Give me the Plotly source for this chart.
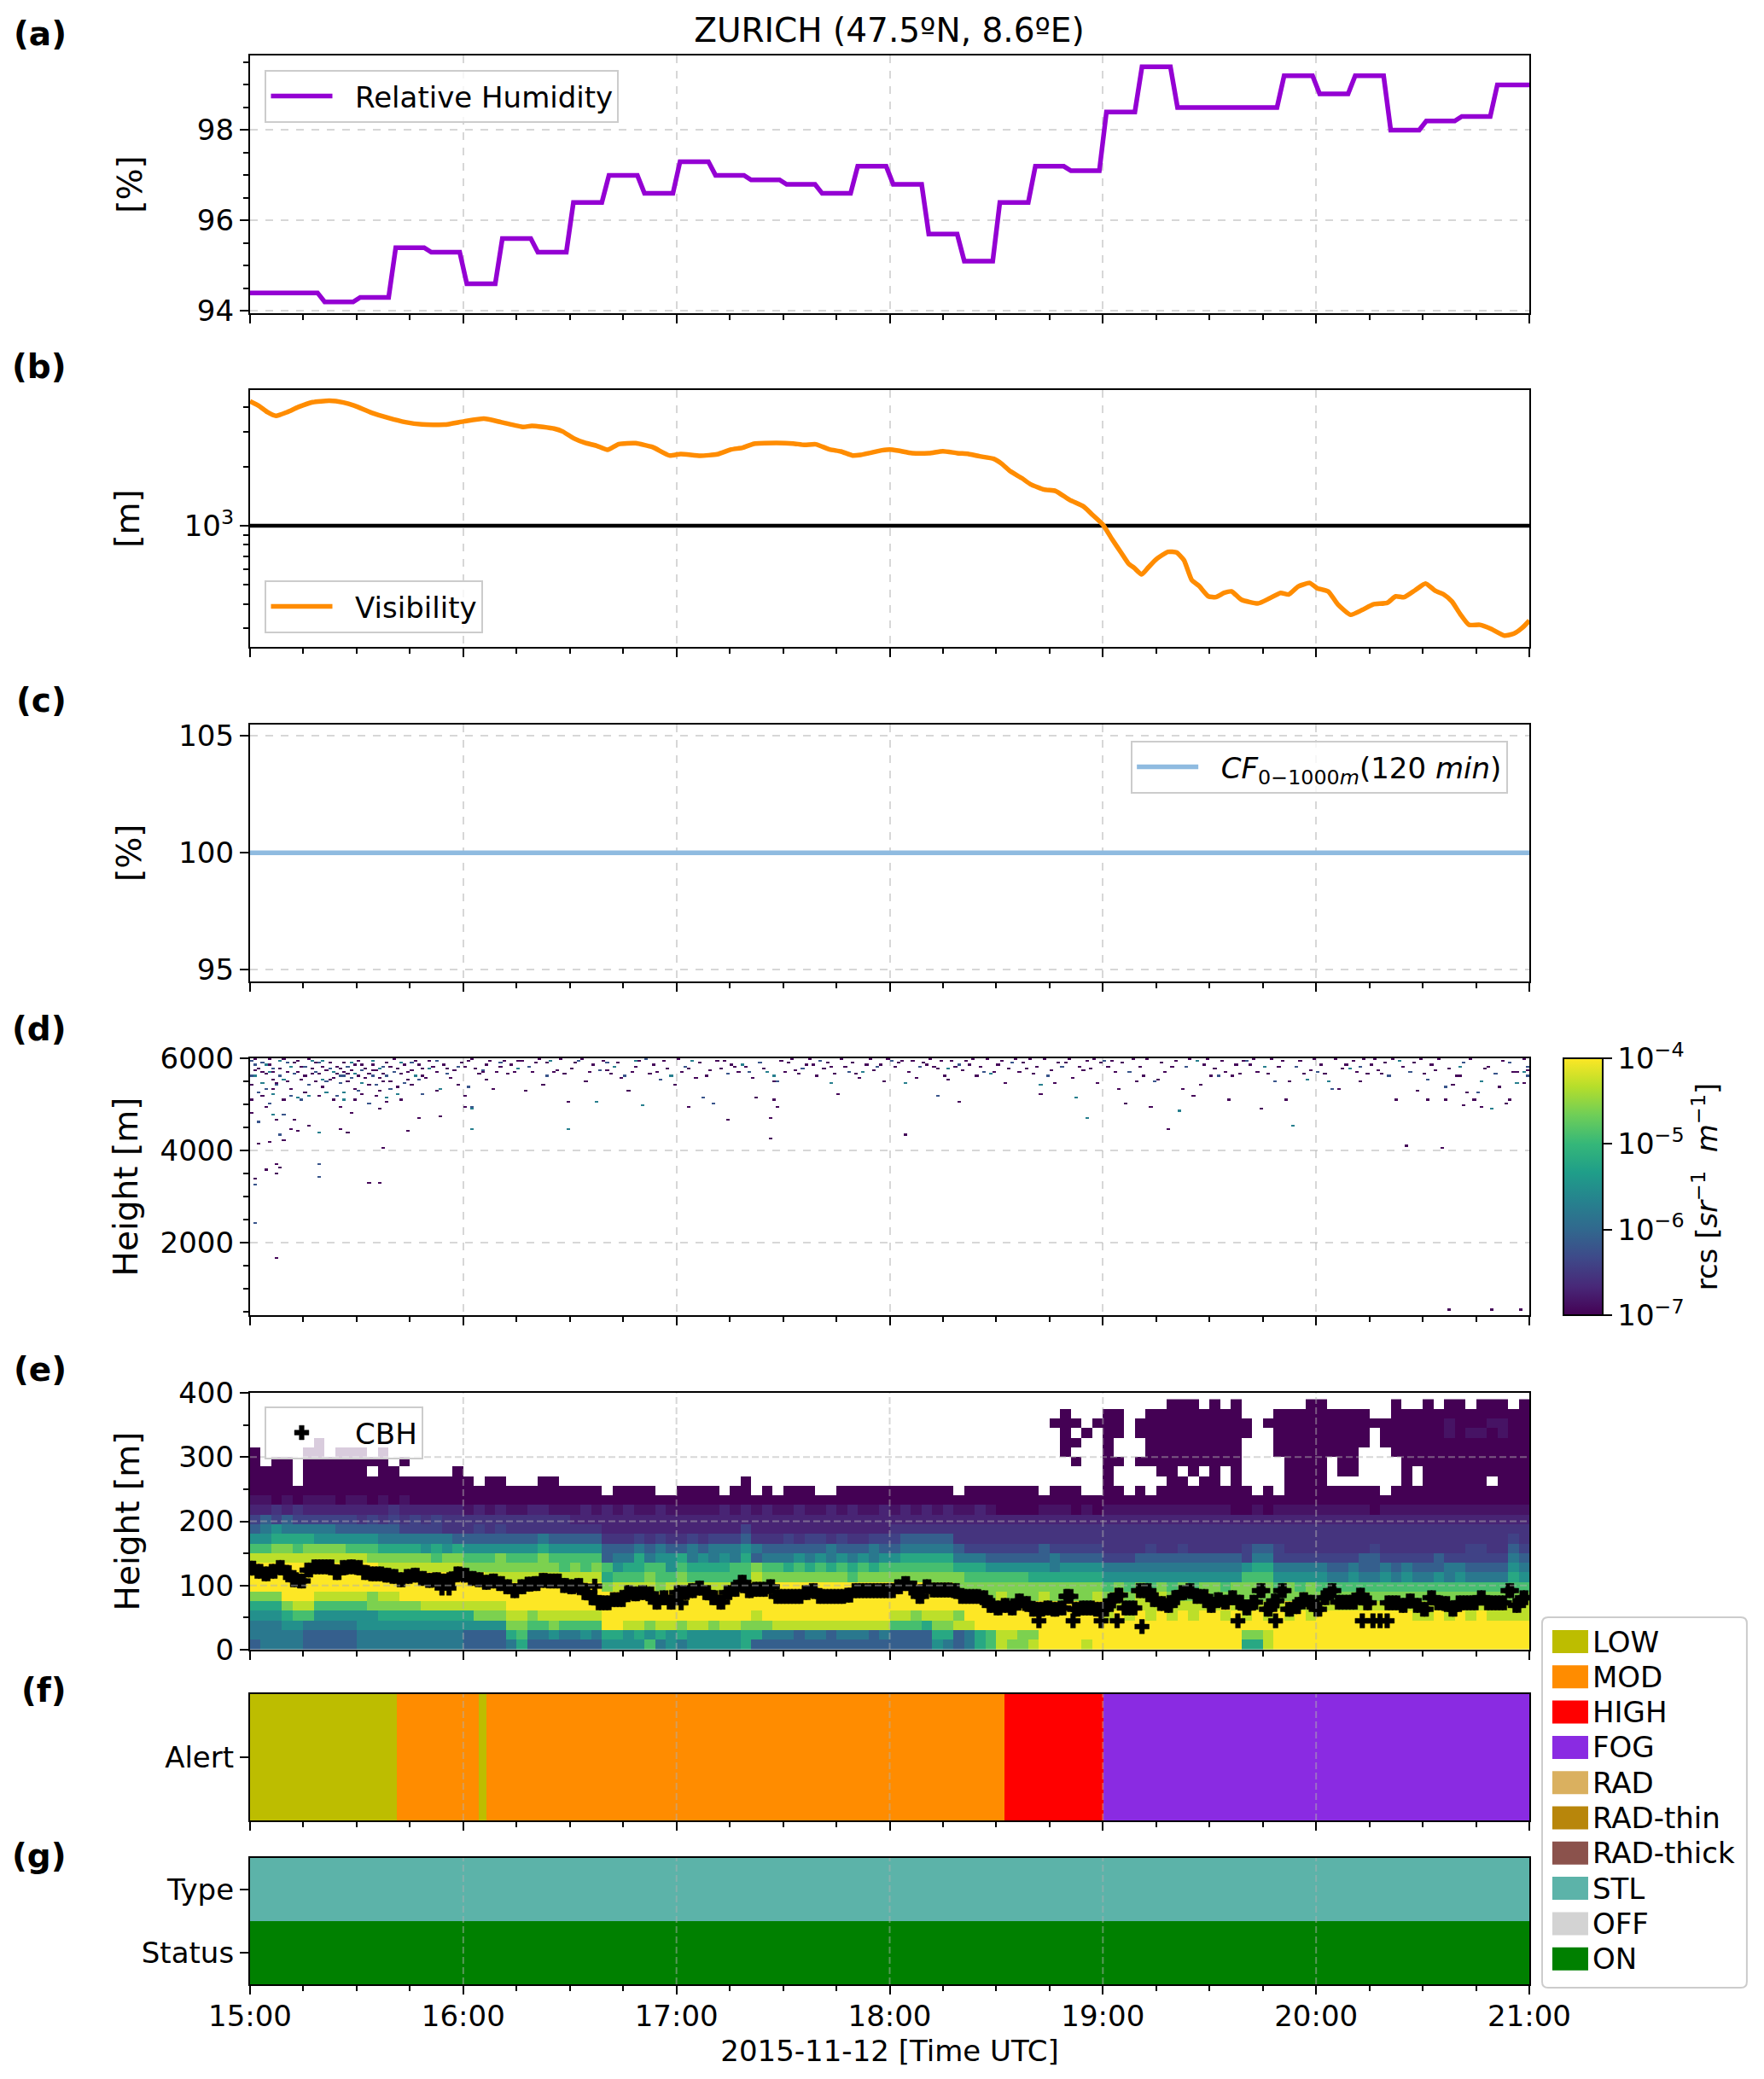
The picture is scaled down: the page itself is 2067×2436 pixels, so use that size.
import pandas as pd
import plotly.graph_objects as go

BASE = pd.Timestamp("2015-11-12 15:00")
def T(m):
    return (BASE + pd.Timedelta(minutes=float(m))).strftime("%Y-%m-%d %H:%M:%S")

TITLE = "ZURICH (47.5ºN, 8.6ºE)"
XLABEL = "2015-11-12 [Time UTC]"
panel_labels = ["(a)", "(b)", "(c)", "(d)", "(e)", "(f)", "(g)"]
hour_ticks = [0, 60, 120, 180, 240, 300, 360]

# (a) relative humidity, one value per 10 minute block
rh_blocks = [94.4, 94.4, 94.2, 94.3, 95.4, 95.3, 94.6, 95.6, 95.3, 96.4, 97.0, 96.6,
             97.3, 97.0, 96.9, 96.8, 96.6, 97.2, 96.8, 95.7, 95.1, 96.4, 97.2, 97.1,
             98.4, 99.4, 98.5, 98.5, 98.5, 99.2, 98.8, 99.2, 98.0, 98.2, 98.3, 99.0]

# (b) visibility
vis_minutes = [0, 2.5, 4.9, 7.3, 10.4, 13.6, 17.6, 22.3, 26.3, 29.4, 34.2, 38.9, 43.7, 48.4, 54.7, 60.3,
               65.8, 70.6, 76.9, 79.3, 85.6, 88, 91.1, 94.3, 97.5, 100.6, 103.8, 108.5, 113.3, 118, 121.2,
               126.7, 131.5, 135.4, 138.6, 141.8, 148.1, 152.8, 156, 159.2, 163.1, 166.3, 169.5, 171.8, 177.8,
               180, 182.4, 186.3, 191.1, 195, 199, 202.2, 205.3, 209.3, 211.6, 214, 217.2, 219.6, 223.5, 226.7,
               230.6, 234.6, 237, 240, 242.5, 245.2, 247.2, 248.8, 250.9, 252.8, 255.2, 258.3, 260.7, 262.8,
               265, 267, 269.7, 271.8, 274.1, 276.2, 278.9, 283.6, 286.8, 290, 292.3, 295, 298.2, 300.3, 303.4,
               306.1, 309.7, 312.9, 316.1, 320, 322.4, 324.8, 327.9, 330.8, 333.5, 335.9, 338.2, 340.6, 343,
               346.1, 349.3, 353, 355.6, 358, 360]
vis_m = [4298, 4075, 3786, 3626, 3786, 4022, 4256, 4328, 4242, 4088, 3762, 3542, 3370, 3280, 3270, 3403,
         3507, 3370, 3183, 3226, 3120, 3018, 2785, 2641, 2554, 2437, 2606, 2632, 2512, 2280, 2319,
         2273, 2311, 2445, 2495, 2615, 2641, 2623, 2580, 2597, 2445, 2389, 2280, 2296, 2421,
         2445, 2413, 2342, 2342, 2397, 2342, 2319, 2257, 2190, 2063, 1891, 1746, 1628, 1528, 1503,
         1355, 1251, 1139, 1013, 858, 726, 642, 610, 565, 614, 679, 736, 731, 668,
         529, 495, 437, 433, 455, 463, 421, 402, 426, 455, 447, 491, 511, 481, 463,
         398, 352, 372, 398, 405, 437, 433, 470, 508, 467, 447, 412, 354, 313,
         313, 298, 276, 282, 302, 329]
fog_limit_minutes = [0, 360]
fog_limit_m = [1000, 1000]

# (c) cloud fraction
cf_minutes = [0, 360]
cf_values = [100, 100]

# (d) sparse backscatter returns above the noise mask: (minute, height m)
d_dark_log = -6.95
d_dark = [(0,5410),(0,5090),(0,4800),(1,3370),(1,5720),(2,4140),(2,5780),(3,5170),(4,3570),(4,5640),(4,4950),(5,4190),
 (5,5960),(6,5330),(6,5550),(7,1655),(7,3500),(7,3700),(7,4650),(7,5460),(8,3600),(8,5940),(9,4230),(9,5080),(10,5680),
 (11,4470),(11,5340),(12,4650),(13,4400),(13,5930),(14,5530),(15,5260),(16,4530),(17,5640),(18,5900),(19,5190),(20,5360),
 (21,5750),(22,5540),(23,5100),(24,5830),(25,4450),(25,4950),(26,5700),(27,4385),(27,5480),(28,4830),(29,5080),(29,5340),
 (30,5920),(31,5230),(32,5560),(33,3280),(33,5400),(34,5740),(35,5180),(36,3300),(36,5300),(36,4900),(37,4070),(37,5510),
 (38,5050),(39,5830),(40,5960),(41,5370),(42,5080),(44,4415),(44,5700),(45,5430),(47,4700),(48,5620),(50,5940),(52,5280),
 (53,4720),(55,5790),(58,5430),(60,5170),(60,4950),(61,5950),(65,5700),(66,5540),(68,5320),(70,5820),(72,5650),(75,5950),
 (77,5300),(80,5880),(82,5420),(86,5740),(88,5640),(89,5040),(91,5880),(94,5480),(100,5720),(104,5560),(106,5280),(108,5800),
 (112,5640),(117,5780),(119,5400),(123,4920),(123,5790),(125,5570),(129,5720),(133,5940),(134,4660),(136,5800),(141,5560),
 (142,5120),(146,4260),(146,4695),(147,5090),(148,4935),(147,5480),(151,5900),(153,5750),(158,5860),(163,5830),(165,5200),
 (170,5650),(175,5740),(178,5500),(184,4350),(182,5880),(185,5700),(187,5580),(190,5840),(193,5760),(196,5520),(199,5065),
 (201,5920),(204,5620),(209,5680),(212,5460),(218,5780),(222,5230),(226,5470),(229,5900),(231,5580),(234,5720),(235,5920),
 (238,5470),(241,5800),(244,5350),(246,5010),(249,5500),(251,5620),(253,4925),(255,5540),(258,4470),(259,5800),(262,5340),
 (265,5170),(267,5400),(270,5630),(275,5100),(276,5600),(279,5940),(284,4910),(286,5650),(291,5095),(292,5480),(295,5920),
 (298,5720),(302,5650),(306,5340),(308,5860),(312,5500),(318,5650),(322,5095),(325,4090),(328,5280),(331,5080),(333,5750),
 (335,4040),(336,5110),(337,550),(338,5420),(339,5600),(341,4965),(342,5260),(344,5080),(346,4930),(348,5820),(349,550),
 (351,5380),(353,5030),(354,5110),(356,5700),(357,550),(358,5470),
 (1,5980),(3,5700),(5,5840),(6,5680),(8,5760),(9,5960),(10,5480),(12,5880),(13,5700),(14,5800),(15,5620),(16,5960),(17,5760),
 (18,5500),(19,5640),(20,5800),(22,5900),(23,5580),(24,5650),(25,5780),(26,5900),(27,5640),(28,5720),(29,5860),(30,5600),(31,5870),
 (32,5760),(33,5650),(34,5860),(35,5720),(36,5560),(37,5640),(38,5900),(39,5500),(41,5780),(42,5650),(43,5850),(44,5530),(45,5740),
 (46,5950),(47,5860),(48,5770),(49,5560),(51,5820),(52,5700),(54,5850),(56,5560),(57,5740),(59,5900),(60,5820),(62,5970),(63,5780),
 (64,5650),(66,5860),(67,5950),(69,5700),(71,5930),(73,5850),(74,5700),(76,5950),(79,5680),(81,5960),(83,5880),(85,5700),(87,5980),
 (90,5760),(93,5960),(95,5700),(96,5860),(99,5940),(101,5660),(103,5880),(107,5700),(109,5920),(113,5850),(114,5700),(116,5940),
 (120,5970),(121,5680),(126,5900),(128,5630),(131,5950),(132,5780),(135,5870),(137,5680),(139,5830),(144,5760),(149,5920),(150,5690),
 (152,5980),(154,5640),(156,5840),(157,5970),(159,5600),(161,5760),(162,5900),(164,5650),(166,5970),(167,5800),(169,5900),(171,5560),
 (173,5860),(174,5970),(177,5850),(179,5960),(181,5800),(183,5950),(186,5940),(189,5900),(191,5970),(192,5830),(194,5950),(195,5620),
 (197,5950),(198,5800),(200,5740),(202,5850),(203,5960),(205,5800),(207,5960),(210,5840),(211,5950),(213,5760),(215,5960),(216,5680),
 (217,5880),(219,5970),(220,5650),(221,5800),(223,5960),(225,5750),(227,5880),(230,5960),(233,5830),(236,5780),(237,5970),(239,5880),
 (242,5950),(243,5700),(245,5900),(248,5970),(250,5800),(252,5960),(256,5880),(257,5700),(260,5950),(264,5960),(268,5840),(269,5960),
 (271,5780),(273,5950),(274,5700),(277,5870),(278,5640),(281,5860),(282,5960),(283,5700),(287,5960),(289,5820),(290,5950),(296,5640),
 (299,5960),(301,5860),(305,5960),(307,5780),(310,5950),(311,5700),(313,5960),(314,5640),(315,5860),(316,5960),(317,5740),(319,5900),
 (321,5960),(324,5800),(327,5880),(329,5960),(330,5650),(332,5840),(334,5960),(337,5770),(340,5630),(343,5960),(347,5760),(352,5950),
 (355,5700),(358,5960),(359,5750)]
d_blue_log = -6.2
d_blue = [(0,5920),(0,5620),(1,2400),(1,3240),(1,5860),(2,5250),(2,4620),(3,5900),(4,5330),(5,5000),(6,5780),(7,5400),(8,4330),
 (8,5620),(9,4770),(10,5900),(11,5180),(12,5650),(14,5080),(15,5830),(16,5420),(18,5700),(19,3700),(19,3430),(19,5900),(21,5480),
 (22,5760),(24,5160),(25,5620),(25,5450),(26,5600),(27,5830),(28,5560),(30,5300),(31,5730),(33,5030),(34,5600),(35,5420),(37,5830),
 (38,5620),(39,5350),(40,5700),(43,5460),(45,5890),(47,5530),(48,5230),(52,5920),(55,5650),(58,5820),(61,5380),(62,4930),(65,5720),
 (70,5890),(78,5800),(83,5620),(92,5930),(98,5750),(100,5880),(105,5600),(111,5960),(115,5550),(122,5800),(127,5150),(130,5010),
 (134,5650),(140,5700),(143,5880),(148,5500),(155,5780),(160,5950),(168,5700),(176,5810),(180,5920),(188,5800),(193,5190),(199,5850),
 (206,5680),(214,5900),(224,5600),(228,5800),(240,5930),(247,5700),(254,5500),(263,5820),(272,5620),(280,5950),(288,5500),(294,5820),
 (300,5700),(304,5340),(312,5800),(320,5600),(326,5700),(331,5550),(336,5380),(341,5900),(345,5260),(350,5650),(354,5900),(359,5620),(359,5820)]
d_teal_log = -5.7
d_teal = [(1,5600),(3,5450),(4,5860),(5,5700),(6,4770),(6,5200),(8,5930),(9,5520),(11,5820),(13,5150),(16,5190),(17,5950),(19,4385),
 (20,5920),(20,5530),(21,5250),(23,5700),(26,5100),(26,5260),(28,5900),(29,5650),(31,5450),(34,5940),(36,5780),(38,5120),(41,5220),
 (42,5890),(46,5600),(50,5780),(53,5350),(62,4450),(62,4900),(75,5780),(84,5930),(89,4450),(97,5040),(102,5800),(108,5950),(110,4985),
 (118,5630),(124,5950),(138,5850),(145,5700),(147,5620),(163,5470),(172,5700),(184,5450),(196,5770),(208,5640),(222,5420),(232,5150),
 (235,4710),(261,4855),(266,5920),(285,5820),(293,4530),(297,5550),(303,5500),(309,5760),(323,5920),(340,5800),(346,5500),(349,4890),
 (356,5450),(358,5700)]

# (e) low-level backscatter; one character per 3 minute column, rows from 0-15 m up to 375-390 m
e_levels = {"0": -7.0, "1": -6.85, "2": -6.7, "3": -6.55, "4": -6.4, "5": -6.1, "6": -5.8,
            "7": -5.5, "8": -5.2, "9": -4.9, "a": -4.6, "b": -4.3, "c": -4.0, ".": None}
e_rows = [
 "5666655555 6666666666 5555685555 5557777967 6777778555 5555555555 5555765689 baabccccbc cccccccccc ccc88bcccc cccccccccc cccccccccc",
 "6666655555 6666666666 5555896676 6768878787 8777778866 6566566656 5555885689 bbaacccccc cccccccccc cccaabcccc cccccccccc cccccccccc",
 "6667766666 7777777777 7777aa99a9 999ccbbabb abbabbaaab bbbbbbbbbb 9998aabbcc cccccccccc cccccccccc cccccccccc cccccccccc cccccccccc",
 "7778997777 7788888888 8aaabbabbb bbbccccccc cccccccbcc cccccccccc bbabbbaccc cccccccccc bcbcbcbcbc cbcbcbcbcb cccccccccb bcbcbcbbbb",
 "888abb9999 9aaaaabbbb bbbbcccccc cccccccccc cccccccccc cccccccccc cccccccccc cccccccccc bbbbbbbbbb bcbbbbbcbb bbbbbbbbbb bbbbbbbbbb",
 "aaacccbbbb babbcccccc cccccccccc cccccccccc cccccccccc cccccccccc ccccccccca baaabaaaab abababaaab aaaaaaaaaa aaaaaaaaaa aaaaaaaaaa",
 "cccccccccc cccccccccc cccccccccc cccabbbbab bbbbbbcccc cccccccccc ccccccaaaa aaaaaaaaaa 9a9a9a9a9a a9aaaa9a9a 9999999999 9999999999",
 "cccccccccc cccccccccc ccbbbbbbbb bbb8999a99 a999999baa aaaaaa9aaa aaaaaaa999 9998888888 7777777777 7779997777 7667667676 6767666687",
 "cccccccccc ccbbbbbbbb aaaaaaaaa9 a9a9788997 9888899a99 8989898989 9999998887 7777767777 6666666666 6667886666 6556556565 5566555576",
 "bbbbbbbbbb baaaaaa9aa 999a999a99 9995668677 8676768566 6767676767 7888886665 5555565555 4445555555 5554664444 4444554444 4544444465",
 "99aa9aaaa9 9988887878 7777777877 7775556565 5656667655 5555655565 5666665444 4444544444 3333433433 3334554333 3333343333 3333443354",
 "7788887777 7766666665 5555555655 5553334343 3434445333 4344343344 4555553333 3333333333 3333333333 3333333333 3333333333 3333333343",
 "5676666655 5555444433 3434333333 3332222222 2222224222 2222222222 3333333333 3333333333 3333333333 3333333333 3333333333 3333333333",
 "4545444444 3434343433 3333333333 2222222222 2222222222 2222222222 2222222222 2222222222 2222222222 2222222222 2222222222 2222222222",
 "2232322222 2223222222 1212112211 1212121121 1111212121 1211212112 1212121121 0000111010 1111111111 1100101111 1111101111 1111111111",
 "1101011101 1010100000 0000000000 0000000000 0000000000 0000000000 0000000000 0000000000 0000000000 0000000000 0000000000 0000000000",
 "0000000000 0000000000 0000000000 000.0000.. 0000.00.0. 000..00000 000000.000 0000.000.. 00.0.00000 0000.0.000 000000.000 0000000000",
 "0000.00000 0000000000 0.00...00. .......... ......0... .......... .......... .......... 0.....00.0 0.0....000 0.......0. 000000.000",
 "0000.00000 0.00.....0 .......... .......... .......... .......... .......... .......... 0....00.0. 0.0....000 0.00....0. 0000000000",
 "0.00.00000 000.0..... .......... .......... .......... .......... .......... .......0.. 00.0000000 000....000 0.00....00 0000000000",
 "0....00.00 0.0....... .......... .......... .......... .......... .......... ......0... 0...000000 000...0000 0000...000 0000000000",
 "......0... .......... .......... .......... .......... .......... .......... ......00.. 0...000000 000...0000 00000.0000 0000000000",
 ".......... .......... .......... .......... .......... .......... .......... ......0.0. 00.0000000 0000..0000 00000.0000 0010110100",
 ".......... .......... .......... .......... .......... .......... .......... .....000.0 00.0000000 0000.00000 0000000000 0010001100",
 ".......... .......... .......... .......... .......... .......... .......... ......0... 00..000000 000...0000 00000..000 0000000000",
 ".......... .......... .......... .......... .......... .......... .......... .......... ......000. 0.0......0 0......0.. 0.00.000.0",
]

# (e) cloud base height, read every 2 minutes and held for both minutes, plus isolated detections
cbh_m = [127,122,118,122,128,120,109,107,124,129,129,129,120,128,129,128,120,118,118,116,114,109,114,116,111,108,109,107,109,118,
         116,111,109,105,107,103,98,92,98,102,103,108,107,107,100,98,100,89,81,73,73,78,78,89,87,89,87,74,81,74,
         89,89,92,96,89,81,74,89,94,105,92,94,94,98,83,83,83,83,89,92,83,83,83,83,85,92,92,92,92,92,
         92,98,103,96,83,98,93,93,93,92,83,83,83,81,69,65,69,65,76,72,63,63,65,63,65,83,63,65,65,63,
         63,76,85,65,65,92,92,78,72,69,81,89,92,83,83,69,78,74,81,74,65,74,92,63,76,92,63,67,78,74,
         63,81,92,74,74,74,85,73,None,None,73,73,69,76,69,63,81,73,72,63,73,73,73,81,73,73,73,92,69,81]
cbh_extra_minutes = [54, 56, 97, 121.3, 222, 229.6, 231.6, 239.5, 244, 251, 278, 288.6, 313, 316, 318, 320]
cbh_extra_m = [96, 96, 99, 73, 45, 83, 45, 45, 45, 36, 45, 45, 45, 45, 45, 45]

# (f), (g) categorical strips
alert_edges = [0, 41.3, 64.4, 66.5, 212.3, 240.2, 360]
alert_codes = [0, 1, 0, 1, 2, 3]
status_rows = ["Status", "Type"]
status_codes = [[9], [7]]
legend_labels = ["LOW", "MOD", "HIGH", "FOG", "RAD", "RAD-thin", "RAD-thick", "STL", "OFF", "ON"]
legend_colors = ["#BDBD00", "#FF8C00", "#FF0000", "#8A2BE2", "#DAB05F", "#B8860B", "#8B524C", "#5CB3A9", "#D3D3D3", "#008000"]

# ---- page geometry ----
W, H = 2067, 2436
L, R, TOP, BOT = 292.5, 1792.0, 65.0, 2325.0
panels = [(65, 367), (457, 758), (848.5, 1150), (1240, 1541), (1632, 1933), (1985, 2133), (2177, 2325)]
def px(x): return (x - L) / (R - L)
def py(y): return 1 - (y - TOP) / (BOT - TOP)

FONT = "DejaVu Sans"
TICK = 34
GRID = "rgba(176,176,176,0.5)"
GAP = "\u00a0\u00a0"
fig = go.Figure()

# ---- traces ----
rh_x, rh_y = [], []
for i, v in enumerate(rh_blocks):
    rh_x += [T(10 * i + 1 if i else 0), T(min(10 * i + 9, 360))]
    rh_y += [v, v]
rh_x.append(T(360)); rh_y.append(rh_blocks[-1])
fig.add_trace(go.Scatter(x=rh_x, y=rh_y, mode="lines", name=GAP + "Relative Humidity",
                         line=dict(color="#9400D3", width=5.5), xaxis="x", yaxis="y", legend="legend"))
fig.add_trace(go.Scatter(x=[T(m) for m in fog_limit_minutes], y=fog_limit_m, mode="lines", showlegend=False,
                         line=dict(color="black", width=4.5), xaxis="x2", yaxis="y2"))
fig.add_trace(go.Scatter(x=[T(m) for m in vis_minutes], y=vis_m, mode="lines", name=GAP + "Visibility",
                         line=dict(color="#FF8C00", width=5.5, shape="spline", smoothing=0.5),
                         xaxis="x2", yaxis="y2", legend="legend2"))
fig.add_trace(go.Scatter(x=[T(m) for m in cf_minutes], y=cf_values, mode="lines",
                         name=GAP + "<i>CF</i><sub>0−1000<i>m</i></sub>(120 <i>min</i>)",
                         line=dict(color="#8FBBE0", width=5.5), xaxis="x3", yaxis="y3", legend="legend3"))

D_BIN = 40
d_y_edges = [400 + D_BIN * k for k in range(141)]
d_x_edges = [T(m) for m in range(361)]
d_z = [[None] * 360 for _ in range(140)]
for pts, val in ((d_dark, d_dark_log), (d_blue, d_blue_log), (d_teal, d_teal_log)):
    for m, h in pts:
        d_z[int((h - 400) // D_BIN)][int(m)] = val
fig.add_trace(go.Heatmap(x=d_x_edges, y=d_y_edges, z=d_z, coloraxis="coloraxis", xaxis="x4", yaxis="y4",
                         hoverongaps=False))

e_grid = [[e_levels[c] for c in row.replace(" ", "")] for row in e_rows]
e_x_edges = [T(3 * c) for c in range(121)]
e_y_edges = [15 * k for k in range(27)]
fig.add_trace(go.Heatmap(x=e_x_edges, y=e_y_edges, z=e_grid, coloraxis="coloraxis", xaxis="x5", yaxis="y5",
                         hoverongaps=False))
cbh_x, cbh_y = [], []
for i, h in enumerate(cbh_m):
    cbh_x += [T(2 * i), T(2 * i + 1)]
    cbh_y += [h, h]
cbh_x += [T(m) for m in cbh_extra_minutes]
cbh_y += cbh_extra_m
fig.add_trace(go.Scatter(x=cbh_x, y=cbh_y, mode="markers", name=GAP + "CBH",
                         marker=dict(symbol="cross", color="black", size=14, line=dict(width=0.5, color="black")),
                         xaxis="x5", yaxis="y5", legend="legend4"))

n = len(legend_colors)
discrete = []
for i, c in enumerate(legend_colors):
    discrete += [[i / n, c], [(i + 1) / n, c]]
fig.add_trace(go.Heatmap(x=[T(m) for m in alert_edges], y=["Alert"], z=[alert_codes], colorscale=discrete,
                         zmin=-0.5, zmax=n - 0.5, showscale=False, xaxis="x6", yaxis="y6"))
fig.add_trace(go.Heatmap(x=[T(0), T(360)], y=status_rows, z=status_codes, colorscale=discrete,
                         zmin=-0.5, zmax=n - 0.5, showscale=False, xaxis="x7", yaxis="y7"))

# ---- axes ----
line = dict(showline=True, mirror=True, linecolor="black", linewidth=2.2)
def xaxis(i):
    return dict(
        type="date", domain=[0, 1], range=[T(0), T(360)], anchor=f"y{i+1}" if i else "y",
        tick0=T(0), dtick=3600000, tickformat="%H:%M", ticks="outside", ticklen=10, tickwidth=2,
        tickcolor="black", showticklabels=i == 6, tickfont=dict(size=TICK, family=FONT, color="black"),
        ticklabelstandoff=-4,
        minor=dict(tick0=T(0), dtick=900000, ticks="outside", ticklen=5.5, tickwidth=1.6, tickcolor="black", showgrid=False),
        showgrid=i < 4, griddash="dash", gridcolor=GRID, gridwidth=2, zeroline=False, **line)
def yaxis(i, **kw):
    top, bot = panels[i]
    base = dict(domain=[py(bot), py(top)], anchor=f"x{i+1}" if i else "x", ticks="outside", ticklen=10, tickwidth=2,
                tickcolor="black", tickfont=dict(size=TICK, family=FONT, color="black"), zeroline=False,
                showgrid=i < 4, griddash="dash", gridcolor=GRID, gridwidth=2, **line)
    base.update(kw)
    return base
def ytitle(text, standoff):
    return dict(text=text, standoff=standoff, font=dict(size=39, family=FONT, color="black"))
minor_y = lambda d: dict(dtick=d, ticks="outside", ticklen=5.5, tickwidth=1.6, tickcolor="black", showgrid=False)

layout = dict(
    width=W, height=H, autosize=False, paper_bgcolor="white", plot_bgcolor="white",
    margin=dict(l=L, r=W - R, t=TOP, b=H - BOT, pad=0),
    font=dict(family=FONT, size=TICK, color="black"),
    title=dict(text=TITLE, x=1042 / W, xref="container", xanchor="center", y=1 - 35 / H, yref="container",
               yanchor="middle", font=dict(size=39, family=FONT, color="black")),
    coloraxis=dict(cmin=-7, cmax=-4, colorscale="Viridis",
                   colorbar=dict(x=px(1832), xanchor="left", xref="paper", y=py(1541), yanchor="bottom", yref="paper",
                                 len=301 / (BOT - TOP), lenmode="fraction", thickness=45.5, thicknessmode="pixels",
                                 xpad=0, ypad=0, outlinecolor="black", outlinewidth=2, ticks="outside", ticklen=10,
                                 tickwidth=2, tickcolor="black", tickmode="array", tickvals=[-7, -6, -5, -4],
                                 ticktext=["10<sup>−7</sup>", "10<sup>−6</sup>", "10<sup>−5</sup>", "10<sup>−4</sup>"],
                                 tickfont=dict(size=TICK, family=FONT, color="black"),
                                 title=dict(text="rcs [<i>sr</i><sup>−1</sup>  <i>m</i><sup>−1</sup>]", side="right",
                                            font=dict(size=34, family=FONT, color="black")))),
    showlegend=True,
)
for i in range(7):
    layout["xaxis" if i == 0 else f"xaxis{i+1}"] = xaxis(i)
layout["xaxis7"]["title"] = dict(text=XLABEL, standoff=10, font=dict(size=34, family=FONT, color="black"))

layout["yaxis"] = yaxis(0, range=[93.95, 99.65], tickvals=[94, 96, 98], minor=minor_y(0.5), title=ytitle("[%]", 52))
layout["yaxis2"] = yaxis(1, type="log", range=[2.383, 3.691], tickmode="array", tickvals=[1000],
                         ticktext=["10<sup>3</sup>"],
                         minor=dict(tickmode="array", tickvals=[300, 400, 500, 600, 700, 800, 900, 2000, 3000, 4000],
                                    ticks="outside", ticklen=5.5, tickwidth=1.6, tickcolor="black", showgrid=False),
                         title=ytitle("[m]", 40))
layout["yaxis3"] = yaxis(2, range=[94.5, 105.5], tickvals=[95, 100, 105], title=ytitle("[%]", 32))
layout["yaxis4"] = yaxis(3, range=[417, 6000], tickvals=[2000, 4000, 6000], tickformat="d", minor=minor_y(500),
                         title=ytitle("Height [m]", 14))
layout["yaxis5"] = yaxis(4, range=[0, 400], tickvals=[0, 100, 200, 300, 400], minor=minor_y(50),
                         title=ytitle("Height [m]", 34))
layout["yaxis6"] = yaxis(5, type="category", range=[-0.5, 0.5])
layout["yaxis7"] = yaxis(6, type="category", range=[-0.5, 1.5], categoryorder="array", categoryarray=status_rows)

def legend_box(x, y, entry):
    return dict(x=px(x), y=py(y), xanchor="left", yanchor="top", bgcolor="rgba(255,255,255,0.8)", bordercolor="#CCCCCC",
                borderwidth=2, font=dict(size=34, family=FONT, color="black"), itemwidth=72, itemclick=False,
                entrywidth=entry, entrywidthmode="pixels")
layout["legend"] = legend_box(310, 82, 347)
layout["legend2"] = legend_box(310, 680, 187)
layout["legend3"] = legend_box(1325, 868, 369)
layout["legend4"] = legend_box(310, 1648, 116)

# ---- grid drawn over the images of (e), (f), (g) ----
shapes, annotations = [], []
for i in (4, 5, 6):
    xr, yr = f"x{i+1}", f"y{i+1}"
    for m in hour_ticks[1:-1]:
        shapes.append(dict(type="line", xref=xr, yref=f"{yr} domain", x0=T(m), x1=T(m), y0=0, y1=1, layer="above",
                           line=dict(color=GRID, width=2, dash="8px,4px")))
for h in (100, 200, 300):
    shapes.append(dict(type="line", xref="x5 domain", yref="y5", x0=0, x1=1, y0=h, y1=h, layer="above",
                       line=dict(color=GRID, width=2, dash="8px,4px")))

# ---- big category legend ----
fx0, fx1, fy0, fy1, rad = 1807, 2047, 1895, 2329, 7
shapes.append(dict(type="path", xref="paper", yref="paper", layer="above", fillcolor="rgba(255,255,255,0.8)",
                   line=dict(color="#CCCCCC", width=2),
                   path=(f"M {px(fx0+rad)} {py(fy0)} L {px(fx1-rad)} {py(fy0)} Q {px(fx1)} {py(fy0)} {px(fx1)} {py(fy0+rad)} "
                         f"L {px(fx1)} {py(fy1-rad)} Q {px(fx1)} {py(fy1)} {px(fx1-rad)} {py(fy1)} "
                         f"L {px(fx0+rad)} {py(fy1)} Q {px(fx0)} {py(fy1)} {px(fx0)} {py(fy1-rad)} "
                         f"L {px(fx0)} {py(fy0+rad)} Q {px(fx0)} {py(fy0)} {px(fx0+rad)} {py(fy0)} Z")))
for i, (lab, col) in enumerate(zip(legend_labels, legend_colors)):
    y0 = 1910 + 41.3 * i
    shapes.append(dict(type="rect", xref="paper", yref="paper", layer="above", x0=px(1819), x1=px(1861),
                       y0=py(y0), y1=py(y0 + 27), fillcolor=col, line=dict(width=0)))
    annotations.append(dict(text=lab, xref="paper", yref="paper", x=px(1864), y=py(y0 + 13.5), xanchor="left",
                            yanchor="middle", showarrow=False, font=dict(size=34, family=FONT, color="black")))

# ---- panel letters ----
for lab, yc in zip(panel_labels, [39, 430, 820, 1205, 1604, 1980, 2174]):
    annotations.append(dict(text=f"<b>{lab}</b>", xref="paper", yref="paper", x=px(79), y=py(yc), xanchor="right",
                            yanchor="middle", showarrow=False, font=dict(size=39, family=FONT, color="black")))

layout["shapes"] = shapes
layout["annotations"] = annotations
fig.update_layout(**layout)
fig.write_html("out.html", post_script="document.body.style.margin='0';", config={"displayModeBar": False})
